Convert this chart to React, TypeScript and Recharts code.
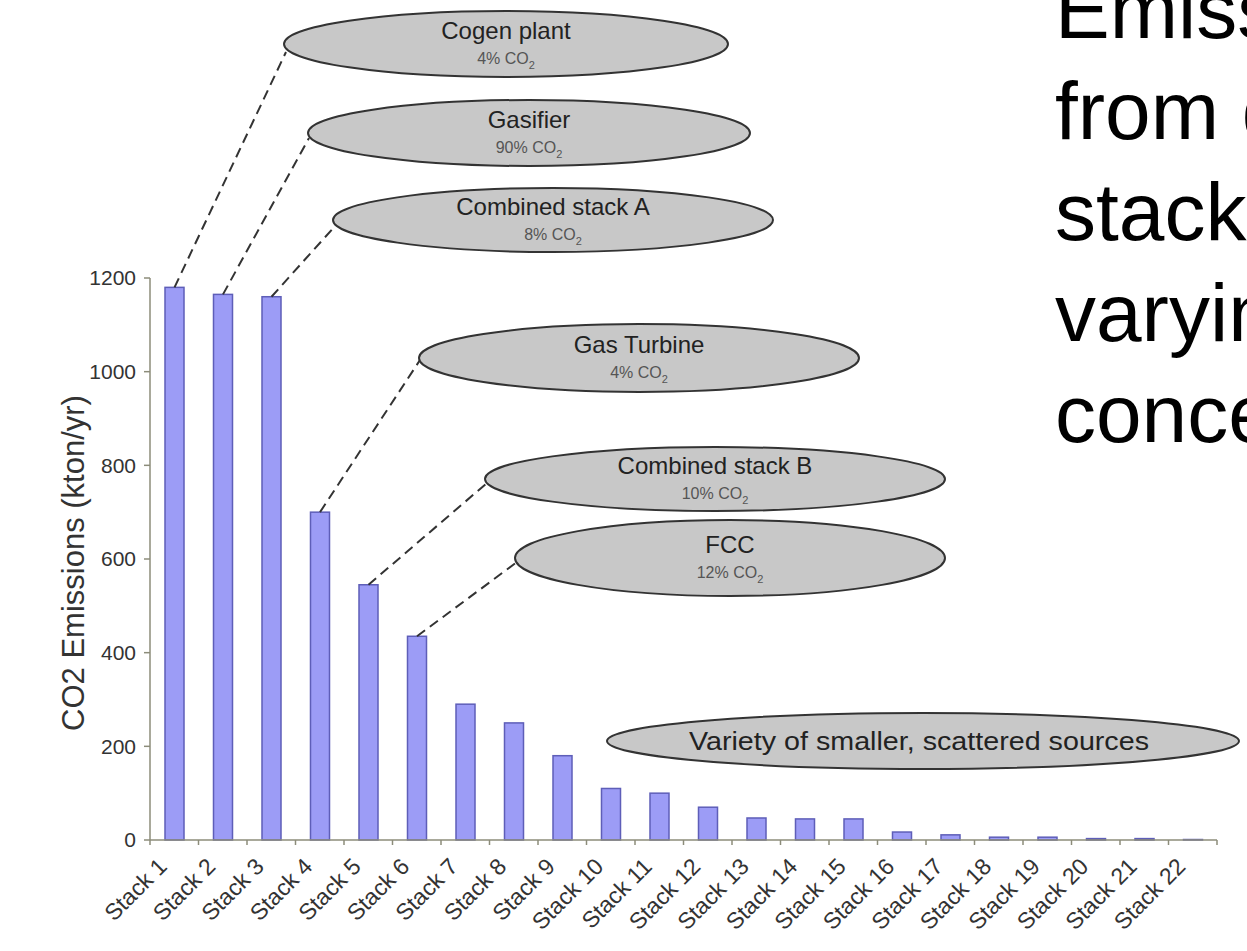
import { BarChart, Bar, XAxis, YAxis } from "recharts";

const stacks = [
  "Stack 1", "Stack 2", "Stack 3", "Stack 4", "Stack 5", "Stack 6", "Stack 7", "Stack 8",
  "Stack 9", "Stack 10", "Stack 11", "Stack 12", "Stack 13", "Stack 14", "Stack 15", "Stack 16",
  "Stack 17", "Stack 18", "Stack 19", "Stack 20", "Stack 21", "Stack 22",
];
const emissions = [1180, 1165, 1160, 700, 545, 435, 290, 250, 180, 110, 100, 70, 47, 45, 45, 17, 11, 6, 6, 3, 3, 1];
const yTicks = [0, 200, 400, 600, 800, 1000, 1200];

// callout texts
const calloutNames = ["Cogen plant", "Gasifier", "Combined stack A", "Gas Turbine", "Combined stack B", "FCC"];
const calloutCO2 = ["4%", "90%", "8%", "4%", "10%", "12%"];
const calloutStacks = ["Stack 1", "Stack 2", "Stack 3", "Stack 4", "Stack 5", "Stack 6"];
const scatteredText = "Variety of smaller, scattered sources";
const titleLines = ["Emissions", "from different", "stacks with", "varying CO2", "concentrations"];

const data = stacks.map((name, i) => ({ name, value: emissions[i] }));

const W = 1247;
const H = 951;
const M = { top: 278, right: 30, left: 0, bottom: 0 };
const Y_W = 150;
const X_H = 111;
const STEP = (W - M.right - Y_W) / stacks.length;
const FONT = "Arial, 'Liberation Sans', sans-serif";

// ellipse layout (pixels)
const ellipses = [
  { cx: 506, cy: 44, rx: 222, ry: 33, tx: 286, ty: 52 },
  { cx: 529, cy: 133, rx: 221, ry: 33, tx: 309, ty: 138 },
  { cx: 553, cy: 220, rx: 220, ry: 32, tx: 336, ty: 225 },
  { cx: 639, cy: 358, rx: 220, ry: 34, tx: 420, ty: 360 },
  { cx: 715, cy: 479, rx: 230, ry: 32, tx: 487, ty: 483 },
  { cx: 730, cy: 558, rx: 215, ry: 38, tx: 517, ty: 562 },
];

function BarShape(props: any) {
  const { x, y, width, height, payload } = props;
  const k = calloutStacks.indexOf(payload?.name);
  return (
    <g>
      <rect x={x} y={y} width={width} height={height} fill="#9c9cf6" stroke="#5e5eb8" strokeWidth={1.5} />
      {k >= 0 && (
        <line
          x1={x + width / 2}
          y1={y}
          x2={ellipses[k].tx}
          y2={ellipses[k].ty}
          stroke="#333"
          strokeWidth={2}
          strokeDasharray="10 6"
        />
      )}
    </g>
  );
}

function XTick(props: any) {
  const { x, y, payload, index } = props;
  const ay = y - 8;
  const tx = x - 6;
  const ty = y + 20;
  return (
    <g>
      <line x1={x - STEP / 2} y1={ay} x2={x - STEP / 2} y2={ay + 5} stroke="#8c8c7a" strokeWidth={1.5} />
      {index === stacks.length - 1 && (
        <line x1={x + STEP / 2} y1={ay} x2={x + STEP / 2} y2={ay + 5} stroke="#8c8c7a" strokeWidth={1.5} />
      )}
      <text
        x={tx}
        y={ty}
        textAnchor="end"
        fontSize={23}
        fontFamily={FONT}
        fill="#333"
        transform={`rotate(-45, ${tx}, ${ty})`}
      >
        {payload.value}
      </text>
    </g>
  );
}

export default function App() {
  return (
    <div style={{ position: "fixed", left: 0, top: 0, width: W, height: H, overflow: "hidden", background: "#fff" }}>
      <BarChart width={W} height={H} data={data} margin={M} barSize={19}>
        <XAxis
          dataKey="name"
          height={X_H}
          interval={0}
          tickLine={false}
          tick={<XTick />}
          stroke="#8c8c7a"
          strokeWidth={1.5}
        />
        <YAxis
          width={Y_W}
          domain={[0, 1200]}
          ticks={yTicks}
          tickSize={6}
          tickMargin={8}
          stroke="#8c8c7a"
          strokeWidth={1.5}
          tick={{ fontSize: 21, fill: "#333", fontFamily: FONT }}
        />
        <Bar dataKey="value" shape={<BarShape />} isAnimationActive={false} />
      </BarChart>
      <svg width={W} height={H} style={{ position: "absolute", left: 0, top: 0, pointerEvents: "none" }}>
        <text
          x={76}
          y={563}
          textAnchor="middle"
          dominantBaseline="middle"
          fontSize={31}
          fontFamily={FONT}
          fill="#333"
          transform="rotate(-90, 76, 563)"
        >
          CO2 Emissions (kton/yr)
        </text>
        {ellipses.map((e, i) => (
          <g key={i}>
            <ellipse cx={e.cx} cy={e.cy} rx={e.rx} ry={e.ry} fill="#c8c8c8" stroke="#333" strokeWidth={2} />
            <text x={e.cx} y={e.cy - 5} textAnchor="middle" fontSize={24} fontFamily={FONT} fill="#222">
              {calloutNames[i]}
            </text>
            <text x={e.cx} y={e.cy + 20} textAnchor="middle" fontSize={16} fontFamily={FONT} fill="#555">
              {calloutCO2[i]} CO<tspan dy={5} fontSize={11}>2</tspan>
            </text>
          </g>
        ))}
        <ellipse cx={923} cy={741} rx={316} ry={28} fill="#c8c8c8" stroke="#333" strokeWidth={2} />
        <text
          x={919}
          y={750}
          textAnchor="middle"
          fontSize={25}
          fontFamily={FONT}
          fill="#222"
          textLength={460}
          lengthAdjust="spacingAndGlyphs"
        >
          {scatteredText}
        </text>
        {titleLines.map((t, i) => (
          <text key={t} x={1055} y={38 + i * 101} fontSize={82} fontFamily={FONT} fill="#000">
            {t}
          </text>
        ))}
      </svg>
    </div>
  );
}
